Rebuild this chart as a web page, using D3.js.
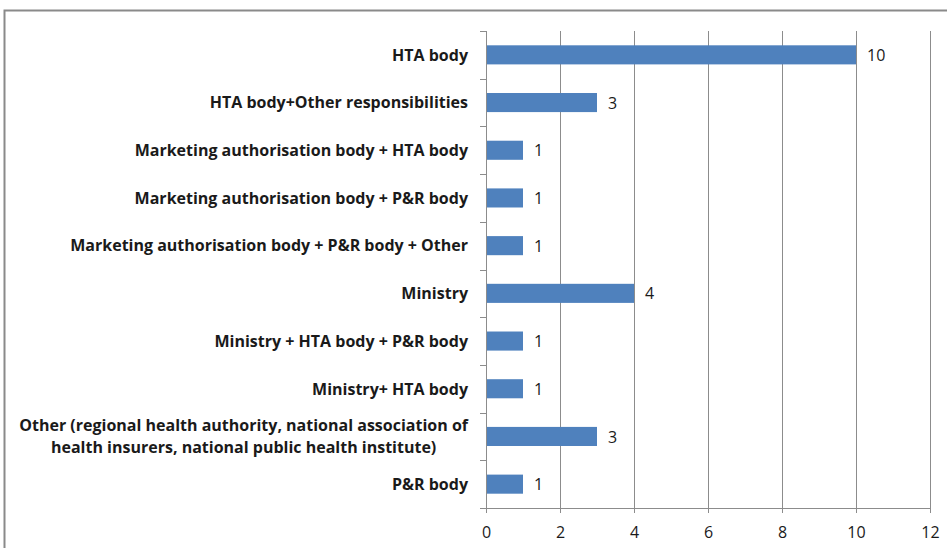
<!DOCTYPE html>
<html>
<head>
<meta charset="utf-8">
<script src="https://cdn.jsdelivr.net/npm/d3@7"></script>
<style>
  body { margin: 0; background: #fff; }
  svg { display: block; font-family: "Open Sans", "Liberation Sans", Arial, sans-serif; }
  .grid line { stroke: #8c8c8c; stroke-width: 1; }
  .grid path { display: none; }
  .axis path, .axis line { stroke: #8c8c8c; }
</style>
</head>
<body>
<svg id="chart" width="947" height="548"></svg>
<script>
const categories = [
    ["HTA body"],
    ["HTA body+Other responsibilities"],
    ["Marketing authorisation body + HTA body"],
    ["Marketing authorisation body + P&R body"],
    ["Marketing authorisation body + P&R body + Other"],
    ["Ministry"],
    ["Ministry + HTA body + P&R body"],
    ["Ministry+ HTA body"],
    ["Other (regional health authority, national association of", "health insurers, national public health institute)"],
    ["P&R body"]
];
const counts = [10, 3, 1, 1, 1, 4, 1, 1, 3, 1];
const xTicks = [0, 2, 4, 6, 8, 10, 12];

const margin = {top: 31, right: 17, bottom: 40, left: 486},
    width = 947 - margin.left - margin.right,
    height = 548 - margin.top - margin.bottom;

const svg = d3.select("#chart");

// outer frame
svg.append("rect")
    .attr("x", 4.5).attr("y", 10.5)
    .attr("width", 960).attr("height", 560)
    .attr("fill", "none")
    .attr("stroke", "#8a8a8a")
    .attr("stroke-width", 2);

const chart = svg.append("g")
    .attr("transform", `translate(${margin.left}, ${margin.top})`);

const keys = categories.map((c, i) => i);

const xScale = d3.scaleLinear()
    .domain([0, 12])
    .range([0, 444]);

const yScale = d3.scaleBand()
    .domain(keys)
    .range([0, 477])
    .paddingInner(0.6)
    .paddingOuter(0.3);

// gridlines
chart.append("g")
    .attr("class", "grid")
    .call(d3.axisBottom(xScale)
        .tickValues(xTicks.slice(1))
        .tickFormat("")
        .tickSize(477));

chart.selectAll(".bar")
    .data(counts)
    .enter().append("rect")
    .attr("class", "bar")
    .attr("x", xScale(0))
    .attr("y", (d, i) => yScale(i))
    .attr("width", d => xScale(d) - xScale(0))
    .attr("height", yScale.bandwidth())
    .attr("fill", "#4f81bd");

chart.selectAll(".val")
    .data(counts)
    .enter().append("text")
    .attr("class", "val")
    .attr("x", d => xScale(d) + 11)
    .attr("y", (d, i) => yScale(i) + yScale.bandwidth() / 2)
    .attr("dy", "0.38em")
    .attr("font-size", 16)
    .attr("fill", "#1a1a1a")
    .text(d => d);

// y axis: line plus ticks at band boundaries
chart.append("line")
    .attr("x1", 0.5).attr("x2", 0.5)
    .attr("y1", 0).attr("y2", 477)
    .attr("stroke", "#8c8c8c");
chart.selectAll(".ytick")
    .data(d3.range(0, 11))
    .enter().append("line")
    .attr("class", "ytick")
    .attr("x1", -6).attr("x2", 0)
    .attr("y1", i => Math.round(i * 477 / 10) + 0.5)
    .attr("y2", i => Math.round(i * 477 / 10) + 0.5)
    .attr("stroke", "#8c8c8c");

// x axis
chart.append("g")
    .attr("class", "x axis")
    .attr("transform", `translate(0, ${477})`)
    .call(d3.axisBottom(xScale).tickValues(xTicks).tickSizeOuter(0).tickSize(5).tickPadding(14))
    .call(g => g.selectAll("text").attr("font-size", 16).attr("fill", "#1a1a1a")
        .attr("font-family", "Open Sans, Liberation Sans, Arial, sans-serif"));

// category labels
const labels = chart.selectAll(".cat")
    .data(categories)
    .enter().append("text")
    .attr("class", "cat")
    .attr("font-size", 16)
    .attr("font-weight", "bold")
    .attr("fill", "#1a1a1a")
    .attr("text-anchor", "end");

labels.each(function(lines, i) {
    const t = d3.select(this);
    const cy = yScale(i) + yScale.bandwidth() / 2;
    const lh = 22;
    lines.forEach((l, j) => {
        t.append("tspan")
            .attr("x", -18)
            .attr("y", cy + (j - (lines.length - 1) / 2) * lh)
            .attr("dy", "0.36em")
            .text(l);
    });
    if (lines.length > 1) {
        const spans = t.selectAll("tspan").nodes();
        const w = d3.max(spans, s => s.getComputedTextLength());
        t.attr("text-anchor", "middle");
        t.selectAll("tspan").attr("x", -18 - w / 2);
    }
});
</script>
</body>
</html>
